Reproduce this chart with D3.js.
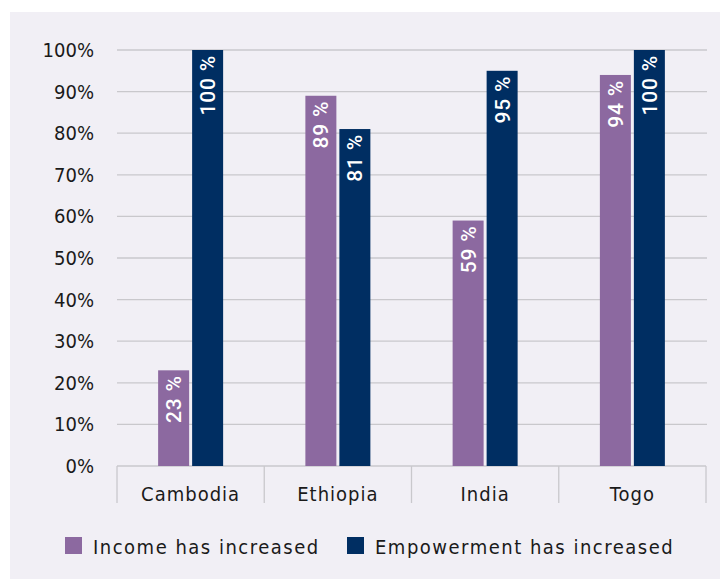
<!DOCTYPE html>
<html>
<head>
<meta charset="utf-8">
<script src="https://cdn.jsdelivr.net/npm/d3@7"></script>
<style>
  html, body { margin: 0; padding: 0; background: #ffffff; }
  svg { display: block; }
  text { font-family: "DejaVu Sans Condensed", "DejaVu Sans", sans-serif; }
</style>
</head>
<body>
<svg id="chart" width="720" height="579"></svg>
<script>
// Share of respondents reporting an increase, by country
const countries = ["Cambodia", "Ethiopia", "India", "Togo"];
const seriesNames = ["Income has increased", "Empowerment has increased"];
const incomeValues = [23, 89, 59, 94];
const empowermentValues = [100, 81, 95, 100];
const yTicks = [0, 10, 20, 30, 40, 50, 60, 70, 80, 90, 100];
const colors = ["#8c69a0", "#002e62"];

const svg = d3.select("#chart");

// panel background
svg.append("rect")
  .attr("x", 10).attr("y", 12)
  .attr("width", 710).attr("height", 567)
  .attr("fill", "#f1eff5");

const plot = { left: 117, right: 706, top: 50, bottom: 466 };

const x = d3.scaleBand()
  .domain(countries)
  .range([plot.left, plot.right])
  .paddingInner(0).paddingOuter(0);

const y = d3.scaleLinear()
  .domain([0, 100])
  .range([plot.bottom, plot.top]);

// horizontal gridlines
svg.append("g")
  .selectAll("line")
  .data(yTicks.filter(t => t > 0))
  .join("line")
  .attr("x1", plot.left).attr("x2", plot.right + 1)
  .attr("y1", d => y(d)).attr("y2", d => y(d))
  .attr("stroke", "#c9c8cc").attr("stroke-width", 1.3);

// y axis labels
const yAxis = d3.axisLeft(y)
  .tickValues(yTicks)
  .tickFormat(d => d + "%")
  .tickSize(0)
  .tickPadding(23);
const yg = svg.append("g")
  .attr("transform", `translate(${plot.left},0)`)
  .call(yAxis);
yg.select(".domain").remove();
yg.selectAll("text")
  .attr("font-size", 20)
  .attr("fill", "#1a1a1a")
  .style("font-family", "'DejaVu Sans Condensed', 'DejaVu Sans', sans-serif")
  .style("letter-spacing", "0px");

// category axis with boxed separators
const xg = svg.append("g");
xg.append("line")
  .attr("x1", plot.left).attr("x2", plot.right)
  .attr("y1", plot.bottom).attr("y2", plot.bottom)
  .attr("stroke", "#c9c8cc").attr("stroke-width", 1.3);
const sepX = countries.map(c => x(c)).concat([x(countries[countries.length - 1]) + x.bandwidth()]);
xg.selectAll("line.sep")
  .data(sepX)
  .join("line")
  .attr("class", "sep")
  .attr("x1", d => d).attr("x2", d => d)
  .attr("y1", plot.bottom).attr("y2", plot.bottom + 37)
  .attr("stroke", "#c9c8cc").attr("stroke-width", 1.3);
xg.selectAll("text")
  .data(countries)
  .join("text")
  .attr("x", d => x(d) + x.bandwidth() / 2)
  .attr("y", 501)
  .attr("text-anchor", "middle")
  .attr("font-size", 20)
  .attr("fill", "#1a1a1a")
  .style("letter-spacing", "1px")
  .text(d => d);

// bars
const barW = 31, gap = 3;

const rows = countries.map((c, i) => ({
  country: c,
  vals: [incomeValues[i], empowermentValues[i]]
}));

const groups = svg.append("g")
  .selectAll("g")
  .data(rows)
  .join("g")
  .attr("transform", d => `translate(${x(d.country) + x.bandwidth() / 2 - (barW * 2 + gap) / 2},0)`);

groups.selectAll("rect")
  .data(d => d.vals.map((v, k) => ({ v, k })))
  .join("rect")
  .attr("x", d => d.k === 0 ? 0 : barW + gap)
  .attr("y", d => y(d.v))
  .attr("width", barW)
  .attr("height", d => y(0) - y(d.v))
  .attr("fill", d => colors[d.k]);

// rotated value labels inside bar tops
groups.selectAll("text")
  .data(d => d.vals.map((v, k) => ({ v, k })))
  .join("text")
  .attr("transform", d => {
    const cx = (d.k === 0 ? 0 : barW + gap) + barW / 2;
    return `translate(${cx + 7.5},${y(d.v) + 5}) rotate(-90)`;
  })
  .attr("text-anchor", "end")
  .attr("font-size", 21)
  .attr("font-weight", 500)
  .attr("fill", "#ffffff")
  .style("font-family", "Roboto, sans-serif")
  .style("letter-spacing", "0.8px")
  .text(d => d.v + " %");

// legend
const legendItems = [
  { name: seriesNames[0], color: colors[0], x: 65 },
  { name: seriesNames[1], color: colors[1], x: 347 }
];
const lg = svg.append("g")
  .selectAll("g")
  .data(legendItems)
  .join("g")
  .attr("transform", d => `translate(${d.x},537)`);
lg.append("rect")
  .attr("width", 17).attr("height", 17)
  .attr("fill", d => d.color);
lg.append("text")
  .attr("x", 28).attr("y", 17)
  .attr("font-size", 20)
  .attr("fill", "#1a1a1a")
  .style("letter-spacing", "1.5px")
  .text(d => d.name);
</script>
</body>
</html>
